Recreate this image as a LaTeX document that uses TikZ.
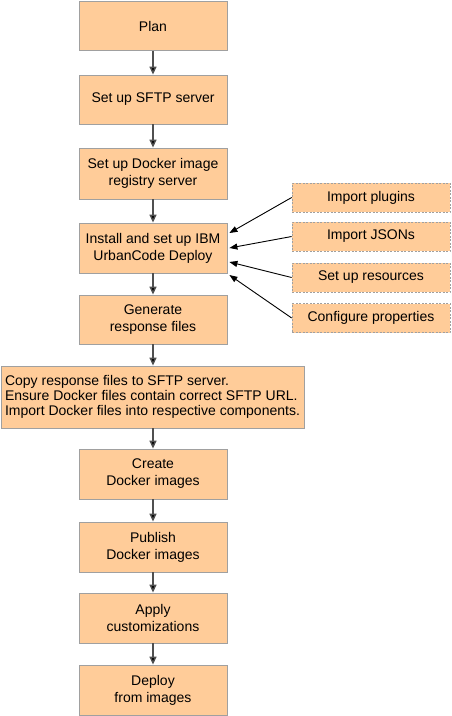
\documentclass[tikz,border=0pt]{standalone}
\usepackage{fontspec}
\setmainfont{Liberation Sans}
\usetikzlibrary{arrows.meta}
\definecolor{boxfill}{HTML}{FFCC99}
\definecolor{boxline}{HTML}{A0A0A0}
\definecolor{arrline}{HTML}{505050}
\begin{document}
\begin{tikzpicture}[x=1pt,y=-1pt,
  stepbox/.style={draw=boxline,fill=boxfill,line width=0.8pt,minimum width=148pt,minimum height=49pt,
    align=center,inner sep=2pt,font=\fontsize{14}{17}\selectfont},
  sidebox/.style={draw=boxline,fill=boxfill,line width=0.7pt,dashed,dash pattern=on 2pt off 1.5pt,
    minimum width=158pt,minimum height=29pt,align=center,inner sep=2pt,font=\fontsize{14}{16}\selectfont},
  flow/.style={draw=arrline,line width=1.4pt,-{Triangle[length=8pt,width=7pt,fill=black]}},
  feed/.style={draw=black,line width=0.9pt,-{Triangle[length=8pt,width=6pt]}}]
\useasboundingbox (0,0) rectangle (451,716);
\node[stepbox] (plan) at (153,26) {Plan};
\node[stepbox] (sftp) at (153,99.5) {Set up SFTP server};
\node[stepbox,minimum height=51pt] (reg) at (153,173.5) {Set up Docker image\\registry server};
\node[stepbox,minimum height=50pt] (inst) at (153,248) {Install and set up IBM\\UrbanCode Deploy};
\node[stepbox] (gen) at (153,319.5) {Generate\\response files};
\node[stepbox,minimum width=301pt,minimum height=62pt,align=left,inner sep=4pt,
  font=\fontsize{14}{15}\selectfont] (copy) at (152.5,397)
  {Copy response files to SFTP server.\\Ensure Docker files contain correct SFTP URL.\\Import Docker files into respective components.};
\node[stepbox,minimum height=50pt] (create) at (153,474) {Create\\Docker images};
\node[stepbox,minimum height=50pt] (pub) at (153,547) {Publish\\Docker images};
\node[stepbox,minimum height=50pt] (apply) at (153,618) {Apply\\customizations};
\node[stepbox,minimum height=50pt] (deploy) at (153,690) {Deploy\\from images};

\node[sidebox] (plug) at (371,197.5) {Import plugins};
\node[sidebox] (json) at (371,236.5) {Import JSONs};
\node[sidebox] (res) at (371,277.5) {Set up resources};
\node[sidebox] (conf) at (371,318) {Configure properties};

\draw[flow] (plan) -- (sftp);
\draw[flow] (sftp) -- (reg);
\draw[flow] (reg) -- (inst);
\draw[flow] (inst) -- (gen);
\draw[flow] (gen) -- (gen|-copy.north);
\draw[flow] (create|-copy.south) -- (create);
\draw[flow] (create) -- (pub);
\draw[flow] (pub) -- (apply);
\draw[flow] (apply) -- (deploy);

\draw[feed] (plug.west) -- ([xshift=2pt,yshift=15pt]inst.east);
\draw[feed] (json.west) -- ([xshift=2pt]inst.east);
\draw[feed] (res.west) -- ([xshift=2pt,yshift=-14pt]inst.east);
\draw[feed] (conf.west) -- ([xshift=2pt,yshift=-27pt]inst.east);
\end{tikzpicture}
\end{document}
